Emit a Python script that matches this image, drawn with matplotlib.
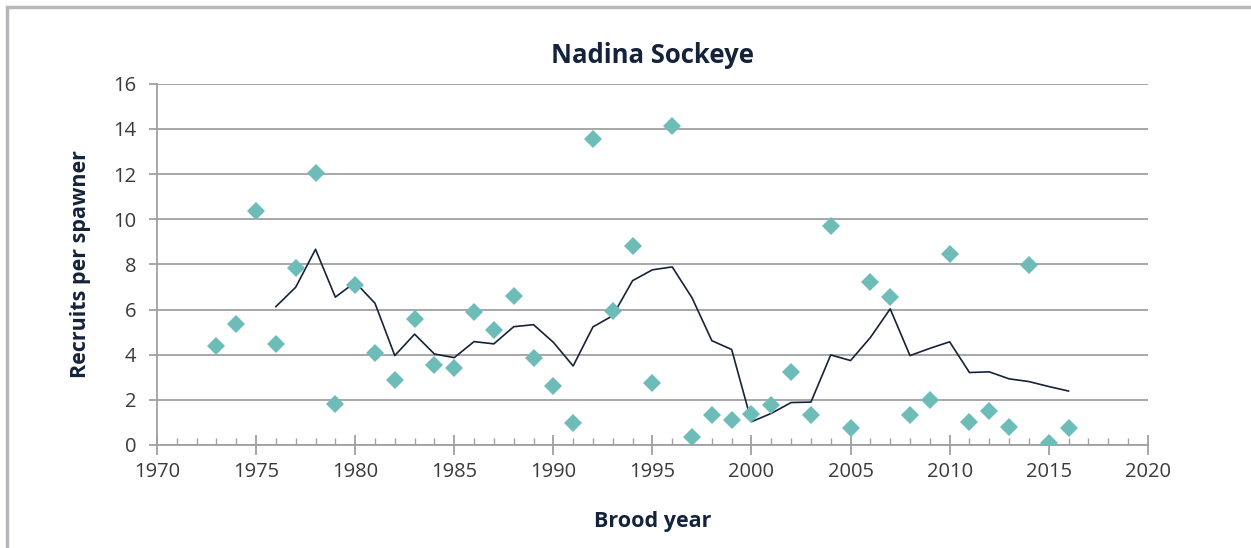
import matplotlib.pyplot as plt
from matplotlib.patches import Rectangle
from matplotlib.ticker import MultipleLocator

# Recruits per spawner by brood year (diamonds)
years = list(range(1973, 2017))
recruits = [4.4, 5.36, 10.37, 4.48, 7.85, 12.06, 1.82, 7.09, 4.08, 2.88,
            5.58, 3.55, 3.41, 5.9, 5.1, 6.6, 3.86, 2.6, 0.97, 13.56,
            5.94, 8.82, 2.75, 14.14, 0.35, 1.33, 1.11, 1.37, 1.77, 3.24,
            1.33, 9.71, 0.75, 7.22, 6.56, 1.33, 2.0, 8.47, 1.02, 1.5,
            0.8, 7.98, 0.09, 0.75]

# Running mean line
line_years = list(range(1976, 2017))
line_vals = [6.13, 6.99, 8.67, 6.55, 7.21, 6.28, 3.96, 4.91, 4.03, 3.87,
             4.58, 4.48, 5.24, 5.33, 4.55, 3.5, 5.23, 5.73, 7.28, 7.76,
             7.89, 6.52, 4.62, 4.23, 1.03, 1.4, 1.88, 1.9, 3.99, 3.74,
             4.76, 6.03, 3.96, 4.28, 4.57, 3.21, 3.24, 2.93, 2.81, 2.59,
             2.39]

navy = '#15233a'
teal = '#6dbcb8'
grey = '#a0a0a4'

plt.rcParams['font.family'] = ['Open Sans', 'DejaVu Sans']

fig = plt.figure(figsize=(12.51, 5.48), dpi=100)
ax = fig.add_axes([0.1255, 0.188, 0.792, 0.659])

# outer frame
fig.patches.append(Rectangle((7 / 1251, -0.1), 1.2, 1 - 7 / 548 + 0.1,
                             transform=fig.transFigure, fill=False,
                             edgecolor='#b8b8bc', linewidth=2.5))

ax.plot(line_years, line_vals, color=navy, linewidth=1.2, zorder=3)
ax.plot(years, recruits, linestyle='none', marker='D', markersize=9.5,
        color=teal, markeredgewidth=0, zorder=4)

ax.set_xlim(1970, 2020)
ax.set_ylim(0, 16)
ax.xaxis.set_major_locator(MultipleLocator(5))
ax.xaxis.set_minor_locator(MultipleLocator(1))
ax.yaxis.set_major_locator(MultipleLocator(2))

ax.grid(axis='y', color=grey, linewidth=1.3)
ax.set_axisbelow(True)
for s in ['top', 'right']:
    ax.spines[s].set_visible(False)
for s in ['left', 'bottom']:
    ax.spines[s].set_color(grey)
    ax.spines[s].set_linewidth(1.3)

ax.tick_params(axis='x', which='major', direction='inout', length=14,
               color=grey, width=1.3, pad=5)
ax.tick_params(axis='x', which='minor', direction='in', length=5,
               color=grey, width=1.0)
ax.tick_params(axis='y', which='major', direction='out', length=6,
               color=grey, width=1.3, pad=9)
ax.tick_params(labelsize=14.5, labelcolor='#3a3a3a')

ax.set_title('Nadina Sockeye', fontsize=18.5, fontweight='bold', color=navy, pad=15)
ax.set_xlabel('Brood year', fontsize=15.5, fontweight='bold', color=navy, labelpad=21)
ax.set_ylabel('Recruits per spawner', fontsize=15.5, fontweight='bold', color=navy, labelpad=16)

plt.savefig('out.png', dpi=100)
